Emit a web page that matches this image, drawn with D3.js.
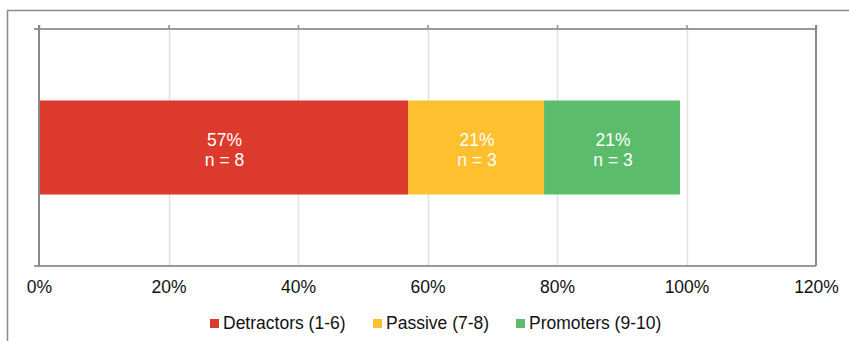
<!DOCTYPE html>
<html>
<head>
<meta charset="utf-8">
<script src="https://cdn.jsdelivr.net/npm/d3@7"></script>
<style>
  body { margin: 0; background: #fff; }
  svg { font-family: "Liberation Sans", Arial, sans-serif; }
</style>
</head>
<body>
<div id="chart"></div>
<script>
// data
const categories = ["Detractors (1-6)", "Passive (7-8)", "Promoters (9-10)"];
const percents = [57, 21, 21];
const counts = [8, 3, 3];
const colors = ["#DC3A2D", "#FEC02F", "#5BBD6B"];
const tickValues = [0, 20, 40, 60, 80, 100, 120];

const W = 849, H = 341;
const margin = {top: 29, right: 33, bottom: 75, left: 39},
    width = 816 - margin.left,
    height = 266 - margin.top;

var svg = d3.select("#chart")
  .append("svg")
    .attr("width", W)
    .attr("height", H);

// outer frame (only left and top edge visible)
svg.append("path")
  .attr("d", "M7.5," + H + "V10.5H" + W)
  .attr("fill", "none")
  .attr("stroke", "#8a8a8a")
  .attr("stroke-width", 1.5);

var g = svg.append("g")
  .attr("transform", "translate(" + margin.left + "," + margin.top + ")");

var x = d3.scaleLinear()
  .domain([0, 120])
  .range([0, width]);

// gridlines
g.selectAll(".grid")
  .data(tickValues.slice(1, -1))
  .enter().append("line")
  .attr("x1", d => Math.round(x(d)) + 0.5)
  .attr("x2", d => Math.round(x(d)) + 0.5)
  .attr("y1", 0)
  .attr("y2", height)
  .attr("stroke", "#e0e0e0")
  .attr("stroke-width", 1.5);

// top frame line with up-ticks
var topAxis = g.append("g")
  .call(d3.axisTop(x).tickValues(tickValues).tickSize(4).tickFormat(""));
topAxis.select(".domain").remove();
topAxis.selectAll(".tick line").attr("stroke", "#8a8a8a").attr("stroke-width", 1.5);
g.append("line")
  .attr("x1", -5).attr("x2", width)
  .attr("y1", 0).attr("y2", 0)
  .attr("stroke", "#999").attr("stroke-width", 2);

// bottom axis
var xAxis = g.append("g")
  .attr("transform", `translate(0,${height})`)
  .call(d3.axisBottom(x).tickValues(tickValues).tickSize(0).tickPadding(15).tickFormat(d => d + "%"));
xAxis.select(".domain").remove();
xAxis.selectAll("text")
  .style("font-size", "17.5px")
  .attr("fill", "#111")
  .attr("font-family", "Liberation Sans, Arial, sans-serif");
g.append("line")
  .attr("x1", -5).attr("x2", width)
  .attr("y1", height).attr("y2", height)
  .attr("stroke", "#999").attr("stroke-width", 2);

// left and right frame lines
g.append("line")
  .attr("x1", 0).attr("x2", 0)
  .attr("y1", -4).attr("y2", height)
  .attr("stroke", "#8a8a8a").attr("stroke-width", 2);
g.append("line")
  .attr("x1", width).attr("x2", width)
  .attr("y1", -4).attr("y2", height)
  .attr("stroke", "#8a8a8a").attr("stroke-width", 2);

// band for the single bar
var y = d3.scaleBand()
  .domain(["all"])
  .range([0, height])
  .paddingInner(0)
  .paddingOuter(0.76);

var starts = d3.cumsum([0].concat(percents.slice(0, -1)));
var segs = percents.map((p, i) => ({p: p, n: counts[i], s: starts[i], c: colors[i]}));

g.selectAll(".bar")
  .data(segs)
  .enter().append("rect")
  .attr("class", "bar")
  .attr("x", d => x(d.s) + (d.s === 0 ? 1 : 0))
  .attr("y", y("all"))
  .attr("width", d => x(d.s + d.p) - x(d.s) - (d.s === 0 ? 1 : 0))
  .attr("height", y.bandwidth())
  .attr("fill", d => d.c);

var labels = g.selectAll(".lbl")
  .data(segs)
  .enter().append("text")
  .attr("text-anchor", "middle")
  .attr("fill", "#fff")
  .style("font-size", "17.5px")
  .attr("x", d => x(d.s + d.p / 2) + 1)
  .attr("y", y("all") + y.bandwidth() / 2);
labels.append("tspan")
  .attr("x", d => x(d.s + d.p / 2) + 1)
  .attr("dy", "-2")
  .text(d => d.p + "%");
labels.append("tspan")
  .attr("x", d => x(d.s + d.p / 2) + 1)
  .attr("dy", "20")
  .text(d => "n = " + d.n);

// legend
var legendX = [210, 373, 516];
var legend = svg.selectAll(".legend")
  .data(categories)
  .enter().append("g")
  .attr("transform", (d, i) => "translate(" + legendX[i] + ",319)");
legend.append("rect")
  .attr("width", 9).attr("height", 9)
  .attr("fill", (d, i) => colors[i]);
legend.append("text")
  .attr("x", 13)
  .attr("y", 10)
  .style("font-size", "17.5px")
  .attr("fill", "#111")
  .text(d => d);
</script>
</body>
</html>
